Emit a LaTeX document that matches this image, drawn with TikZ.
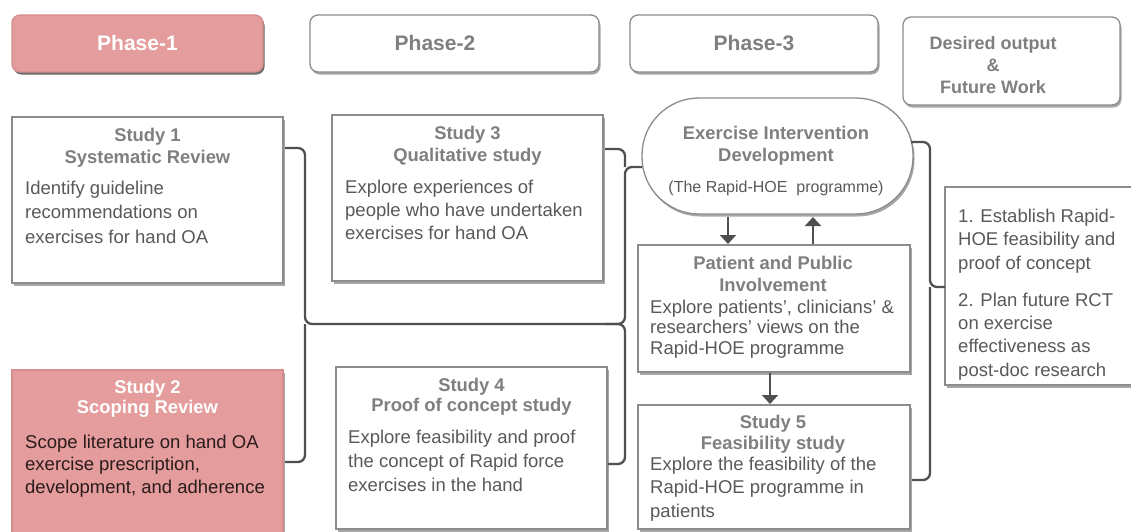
\documentclass[tikz,border=0pt]{standalone}
\usepackage{fontspec}
\setmainfont{Liberation Sans}
\usetikzlibrary{calc,shadows,arrows.meta}
\definecolor{pinkfill}{HTML}{E49C9C}
\definecolor{pinkedge}{HTML}{D48C8C}
\definecolor{edgegray}{HTML}{8C8C8C}
\definecolor{titlegray}{HTML}{7F7F7F}
\definecolor{bodygray}{HTML}{595959}
\definecolor{linegray}{HTML}{505050}
\definecolor{darktext}{HTML}{2B1C1C}

\begin{document}
\begin{tikzpicture}[x=1pt,y=-1pt,
  boxshadow/.style={drop shadow={shadow xshift=1.5pt,shadow yshift=-2.5pt,fill=black,opacity=0.35}},
  card/.style={shape=rectangle,draw=edgegray,line width=1.3pt,fill=white,inner sep=0pt,outer sep=0pt,boxshadow},
  pinkcard/.style={card,draw=pinkedge,fill=pinkfill},
  phasebox/.style={card,rounded corners=8pt,minimum height=57pt},
  pill/.style={card,rounded corners=57pt},
  % multi-line texts are placed by the baseline of their last line
  title/.style={font=\bfseries\fontsize{18.4}{#1}\selectfont,text=titlegray,align=center,inner sep=0pt,anchor=base},
  title/.default=22,
  body/.style={font=\fontsize{18.5}{#1}\selectfont,text=bodygray,align=left,inner sep=0pt,anchor=base west},
  body/.default=24,
  phasetext/.style={font=\bfseries\fontsize{21}{25}\selectfont,text=titlegray,inner sep=0pt},
  conn/.style={draw=linegray,line width=2.3pt,rounded corners=7pt},
  arr/.style={draw=linegray,line width=2.3pt,-{Triangle[width=16pt,length=9pt]}}
]
\useasboundingbox (0,0) rectangle (1131,531);

% phase headers
\node[phasebox,pinkcard,rounded corners=8pt,minimum width=251pt] (ph1) at (137.5,43.5) {};
\node[phasetext,text=white] (ph1t) at (137.5,43) {Phase-1};
\node[phasebox,minimum width=289pt] (ph2) at (454.5,43.5) {};
\node[phasetext] (ph2t) at (435,43) {Phase-2};
\node[phasebox,minimum width=248pt] (ph3) at (754,43.5) {};
\node[phasetext] (ph3t) at (754,43) {Phase-3};
\node[card,rounded corners=8pt,minimum width=217pt,minimum height=88pt] (dout) at (1011.5,61) {};
\node[title,font=\bfseries\fontsize{18}{22}\selectfont] (doutt) at (993,93) {Desired output\\\&\\Future Work};

% phase 1
\node[card,minimum width=271pt,minimum height=166pt] (s1) at (147.5,200) {};
\node[title] (s1h) at (147.5,163) {Study 1\\Systematic Review};
\node[body=24.5] (s1b) at (25,243) {Identify guideline\\recommendations on\\exercises for hand OA};

\node[pinkcard,minimum width=271pt,minimum height=175pt] (s2) at (147.5,457.5) {};
\node[title=20,text=white] (s2h) at (147.5,413) {Study 2\\Scoping Review};
\node[body=22.5,text=darktext] (s2b) at (25,493) {Scope literature on hand OA\\exercise prescription,\\development, and adherence};

% phase 2
\node[card,minimum width=271pt,minimum height=166pt] (s3) at (467.5,198) {};
\node[title] (s3h) at (467.5,161) {Study 3\\Qualitative study};
\node[body=23] (s3b) at (345,239) {Explore experiences of\\people who have undertaken\\exercises for hand OA};

\node[card,minimum width=271pt,minimum height=162pt] (s4) at (471.5,448) {};
\node[title=20] (s4h) at (471.5,411) {Study 4\\Proof of concept study};
\node[body=24] (s4b) at (348,491) {Explore feasibility and proof\\the concept of Rapid force\\exercises in the hand};

% phase 3
\node[pill,minimum width=271pt,minimum height=116pt] (ov) at (777.5,156) {};
\node[title] (ovh) at (776,161) {Exercise Intervention\\Development};
\node[font=\fontsize{16}{19}\selectfont,text=bodygray,inner sep=0pt,anchor=base] (ovs) at (776,192) {(The Rapid-HOE\ \ programme)};

\node[card,minimum width=272pt,minimum height=127pt] (ppi) at (774,308.5) {};
\node[title] (ppih) at (773,291) {Patient and Public\\Involvement};
\node[body=20.5] (ppib) at (650,354) {Explore patients’, clinicians’ \&\\researchers’ views on the\\Rapid-HOE programme};

\node[card,minimum width=272pt,minimum height=124pt] (s5) at (774,467) {};
\node[title=21] (s5h) at (773,449) {Study 5\\Feasibility study};
\node[body=23.5] (s5b) at (650,517) {Explore the feasibility of the\\Rapid-HOE programme in\\patients};

% desired output
\node[card,minimum width=195pt,minimum height=198pt] (out) at (1042.5,286) {};
\node[body=23.3] (outb) at (958,376) {1. Establish Rapid-\\HOE feasibility and\\proof of concept\\[13.7pt]2. Plan future RCT\\on exercise\\effectiveness as\\post-doc research};

% bracket junctions
\coordinate (j1) at (305,324);
\coordinate (j2) at (625,167);
\coordinate (j3) at (625,324);
\coordinate (j3w) at (605,324);
\coordinate (j4) at (930,287);

\draw[conn] ($(s1.north east)+(2,31)$) -| (j1) -| (j2) -- (ov.west |- j2);
\draw[conn] ($(s2.north east)+(2,92)$) -| (j1);
\draw[conn] ($(s3.north east)+(2,34)$) -| (j2);
\draw[conn] ($(s4.north east)+(1,97)$) -| (j3) -- (j3w);
\draw[conn] ($(ov.east)+(-2,-14)$) -| (j4) -- (out.west |- j4);
\draw[conn] ($(s5.north east)+(2,75)$) -| (j4);

% arrows around the involvement box
\draw[arr] ($(ov.south)+(-49.5,3)$) -- ($(ppi.north)+(-46,-1)$);
\draw[arr] ($(ppi.north)+(39,-1)$) -- ($(ov.south)+(35.5,3)$);
\draw[arr] ($(ppi.south)+(-4,1)$) -- ($(s5.north)+(-4,-1)$);
\end{tikzpicture}
\end{document}
